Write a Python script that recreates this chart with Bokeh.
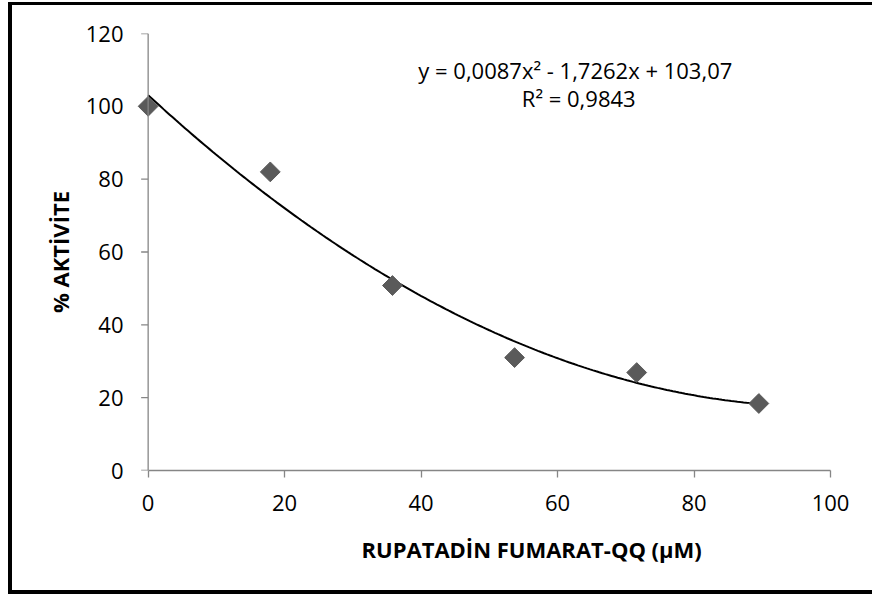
import numpy as np
from bokeh.plotting import figure
from bokeh.models import Label, FixedTicker, Title, Span
from bokeh.embed import file_html
from bokeh.resources import INLINE

# data
conc = [0, 17.9, 35.8, 53.7, 71.6, 89.5]
activity = [100, 82.0, 50.8, 31.0, 26.9, 18.4]
fit_coef = [0.0087, -1.7262, 103.07]  # from the displayed trend equation
x_ticks = [0, 20, 40, 60, 80, 100]
y_ticks = [0, 20, 40, 60, 80, 100, 120]
eq_text = "y = 0,0087x\u00b2 - 1,7262x + 103,07"
r2_text = "R\u00b2 = 0,9843"
x_title = "RUPATADİN FUMARAT-QQ (μM)"
y_title = "% AKTİVİTE"

FONT = "Open Sans"
AXIS_GRAY = "#868686"
X_START = 0  # where the value axis crosses the x axis

# x range padded slightly to the left so the marker at x=0 is not clipped;
# the visible y axis line and ticks are drawn at x=0
p = figure(width=872, height=594, x_range=(-2, 100), y_range=(0, 120),
           output_backend="svg", toolbar_location=None,
           min_border_left=134, min_border_right=42,
           min_border_top=33, min_border_bottom=124)
p.outline_line_color = None
p.xgrid.visible = False
p.ygrid.visible = False
p.background_fill_color = "white"
p.border_fill_color = None
p.styles = {
    "background-color": "white",
    "box-shadow": ("inset 8px 0 0 0 white, inset 0 2px 0 0 white, "
                   "inset 12px 0 0 0 black, inset 0 5px 0 0 black, "
                   "inset 0 -4px 0 0 black"),
}

for ax in (p.xaxis[0], p.yaxis[0]):
    ax.minor_tick_line_color = None
    ax.major_label_text_font = FONT
    ax.major_label_text_font_size = "22px"
    ax.major_label_text_color = "black"

p.xaxis.axis_line_color = AXIS_GRAY
p.xaxis.axis_line_width = 1.3
p.xaxis.major_tick_line_color = AXIS_GRAY
p.xaxis.major_tick_line_width = 1.3
p.xaxis.major_tick_out = 7
p.xaxis.major_tick_in = 0
p.xaxis.bounds = (0, 100)
p.xaxis.ticker = FixedTicker(ticks=x_ticks)
p.xaxis.major_label_standoff = 17

# y axis: labels and title from the axis, line/ticks drawn at x=0
p.yaxis.ticker = FixedTicker(ticks=y_ticks)
p.yaxis.axis_line_color = None
p.yaxis.major_tick_line_color = None
p.yaxis.major_tick_out = 0
p.yaxis.major_tick_in = 0
p.yaxis.major_label_standoff = 11
p.yaxis.axis_label = y_title
p.yaxis.axis_label_text_font = FONT
p.yaxis.axis_label_text_font_style = "bold"
p.yaxis.axis_label_text_font_size = "22px"
p.yaxis.axis_label_text_color = "black"
p.yaxis.axis_label_standoff = 8

p.add_layout(Span(location=X_START, dimension="height",
                  line_color=AXIS_GRAY, line_width=1.3))
p.ray(x=[X_START] * len(y_ticks), y=y_ticks, length=7, length_units="screen",
      angle=np.pi, line_color=AXIS_GRAY, line_width=1.3)

xt = Title(text=x_title, align="left", offset=227, text_font=FONT,
           text_font_style="bold", text_font_size="22px", text_color="black",
           standoff=36)
p.add_layout(xt, "below")

# trend line
xs = np.linspace(conc[0], conc[-1], 200)
ys = np.polyval(fit_coef, xs)
p.line(xs, ys, line_color="black", line_width=2)

# points
p.scatter(conc, activity, marker="square", size=14, angle=np.pi / 4,
          fill_color="#5a5a5a", line_color="#5a5a5a")

p.add_layout(Label(x=62.6, y=109.9, text=eq_text, text_align="center",
                   text_baseline="middle", text_font=FONT,
                   text_font_size="22px", text_color="black"))
p.add_layout(Label(x=63.1, y=102.2, text=r2_text, text_align="center",
                   text_baseline="middle", text_font=FONT,
                   text_font_size="22px", text_color="black"))

open("out.html", "w").write(file_html(p, INLINE))
